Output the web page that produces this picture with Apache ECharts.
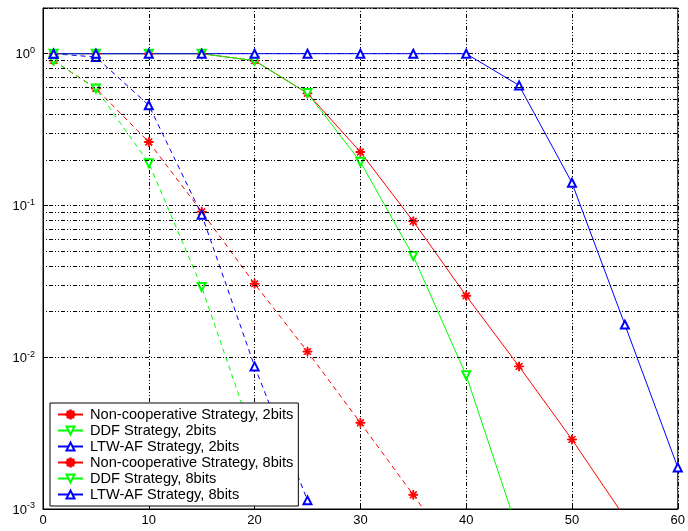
<!DOCTYPE html>
<html>
<head>
<meta charset="utf-8">
<script src="https://cdn.jsdelivr.net/npm/echarts@6/dist/echarts.min.js"></script>
<style>
  html, body { margin: 0; padding: 0; background: #fff; }
  #chart { width: 688px; height: 531px; }
</style>
</head>
<body>
<div id="chart"></div>
<script>
// SNR points (dB) shared by all curves; each curve uses as many as it has values
const snr = [1, 5, 10, 15, 20, 25, 30, 35, 40, 45, 50, 55, 60];

// values (outage probability, log scale)
const nonCoop2 = [0.9, 0.59, 0.262, 0.091, 0.0305, 0.0109, 0.0037, 0.00124, 0.0004];
const ddf2 = [0.9, 0.59, 0.19, 0.029, 0.0028, 0.00029];
const ltw2 = [1.0, 0.95, 0.457, 0.087, 0.0087, 0.00114];
const nonCoop8 = [1.0, 1.0, 1.0, 1.0, 0.9, 0.548, 0.225, 0.0786, 0.0254, 0.0087, 0.00287, 0.00088];
const ddf8 = [1.0, 1.0, 1.0, 1.0, 0.9, 0.55, 0.194, 0.0464, 0.0076, 0.00068];
const ltw8 = [1.0, 1.0, 1.0, 1.0, 1.0, 1.0, 1.0, 1.0, 1.0, 0.618, 0.141, 0.0164, 0.00188];

const names = [
  'Non-cooperative Strategy, 2bits',
  'DDF Strategy, 2bits',
  'LTW-AF Strategy, 2bits',
  'Non-cooperative Strategy, 8bits',
  'DDF Strategy, 8bits',
  'LTW-AF Strategy, 8bits'
];

// minor log grid lines (2..9 in each decade)
const minorGrid = [];
[0.001, 0.01, 0.1, 1].forEach((d) => {
  for (let k = 2; k <= 9; k++) {
    const v = +(d * k).toPrecision(3);
    if (v < 2) minorGrid.push(v);
  }
});

const gridDash = [1, 2, 1, 2, 4, 2];

// MATLAB-like asterisk marker
const asterisk = 'path://M-1,-10L1,-10L1,10L-1,10Z' +
  'M-10,-1L10,-1L10,1L-10,1Z' +
  'M-6.3,-7.7L7.7,6.3L6.3,7.7L-7.7,-6.3Z' +
  'M7.7,-6.3L-6.3,7.7L-7.7,6.3L6.3,-7.7Z';

const pairs = (vals) => vals.map((v, i) => [snr[i], v]);

function curve(name, vals, color, dashed, symbol, rotate) {
  return {
    name,
    type: 'line',
    data: pairs(vals),
    color,
    symbol,
    symbolRotate: rotate || 0,
    symbolSize: symbol === asterisk ? 9 : 8,
    showSymbol: true,
    lineStyle: { color, width: 1, type: dashed ? [5, 4] : 'solid' },
    itemStyle: { color, borderColor: color, borderWidth: 1 }
  };
}

const series = [
  curve(names[0], nonCoop2, '#ff0000', true, asterisk),
  curve(names[1], ddf2, '#00ff00', true, 'emptyTriangle', 180),
  curve(names[2], ltw2, '#0000ff', true, 'emptyTriangle'),
  curve(names[3], nonCoop8, '#ff0000', false, asterisk),
  curve(names[4], ddf8, '#00ff00', false, 'emptyTriangle', 180),
  curve(names[5], ltw8, '#0000ff', false, 'emptyTriangle')
];

// minor grid lines carried by the first series
series[0].markLine = {
  silent: true,
  symbol: 'none',
  label: { show: false },
  lineStyle: { color: '#000', width: 1, type: gridDash },
  data: minorGrid.map((v) => ({ yAxis: v })),
  animation: false
};
series[0].z = 1;

const option = {
  animation: false,
  backgroundColor: '#fff',
  grid: {
    left: 43, right: 5, top: 8, bottom: 22,
    show: true, borderColor: '#000', borderWidth: 1, backgroundColor: '#fff'
  },
  legend: {
    orient: 'vertical',
    left: 50,
    top: 403,
    data: names,
    backgroundColor: '#fff',
    borderColor: '#000',
    borderWidth: 1,
    padding: [4, 5, 4, 7],
    itemGap: 1,
    itemWidth: 25,
    itemHeight: 10,
    lineStyle: { type: 'solid' },
    textStyle: { fontFamily: 'Liberation Sans', fontSize: 14.6, lineHeight: 15, color: '#000', padding: [0, 0, 0, 2] }
  },
  xAxis: {
    type: 'value',
    min: 0,
    max: 60,
    interval: 10,
    axisLine: { show: true, lineStyle: { color: '#000' } },
    axisTick: { inside: true, length: 5, lineStyle: { color: '#000' } },
    axisLabel: { fontFamily: 'Liberation Sans', fontSize: 13, color: '#000', margin: 5 },
    splitLine: { show: true, lineStyle: { color: '#000', width: 1, type: gridDash } }
  },
  yAxis: {
    type: 'log',
    logBase: 10,
    min: 0.001,
    max: 2,
    axisLine: { show: true, lineStyle: { color: '#000' } },
    axisTick: { inside: true, length: 5, lineStyle: { color: '#000' } },
    axisLabel: {
      margin: 8,
      formatter: (v) => {
        const e = Math.log10(v);
        if (Math.abs(e - Math.round(e)) > 1e-6) return '';
        return '{b|10}{s|' + Math.round(e) + '}';
      },
      rich: {
        b: { fontFamily: 'Liberation Sans', fontSize: 13, color: '#000', verticalAlign: 'bottom' },
        s: { fontFamily: 'Liberation Sans', fontSize: 9, color: '#000', verticalAlign: 'top', padding: [0, 0, 6, 0] }
      }
    },
    splitLine: { show: true, lineStyle: { color: '#000', width: 1, type: gridDash } }
  },
  series
};

const chart = echarts.init(document.getElementById('chart'));
chart.setOption(option);
</script>
</body>
</html>
